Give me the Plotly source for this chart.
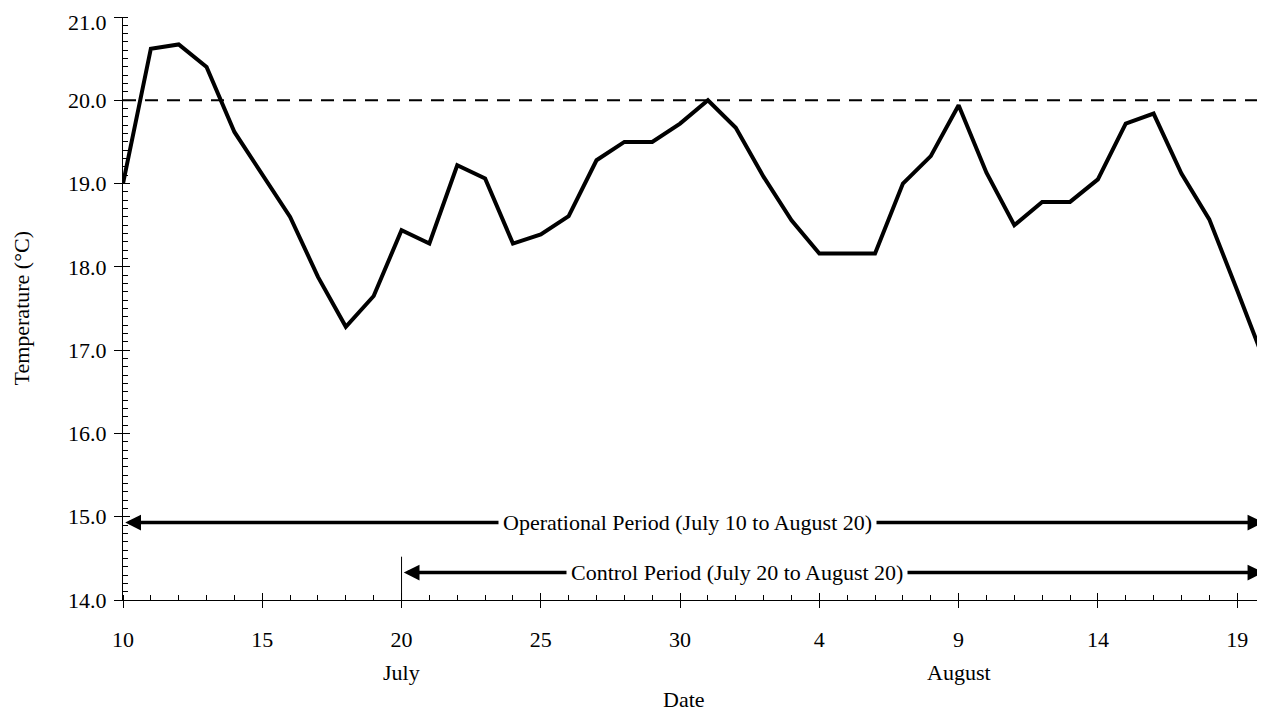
import plotly.graph_objects as go

# ---- data ----
temps = [19.00, 20.62, 20.67, 20.40, 19.62, 19.11, 18.60, 17.88, 17.28, 17.65,
         18.44, 18.28, 19.22, 19.06, 18.28, 18.39, 18.61, 19.28, 19.50, 19.50,
         19.72, 20.00, 19.67, 19.08, 18.56, 18.16, 18.16, 18.16, 19.00, 19.33,
         19.94, 19.13, 18.50, 18.78, 18.78, 19.05, 19.72, 19.84, 19.12, 18.57,
         17.72, 16.85]
day_index = list(range(len(temps)))          # 0 = July 10 ... 41 = August 20
tick_pos = [0, 5, 10, 15, 20, 25, 30, 35, 40]
tick_labels = ["10", "15", "20", "25", "30", "4", "9", "14", "19"]
month_labels = ["July", "August"]
month_pos = [10, 30]
y_min, y_max = 14.0, 21.0
threshold = 20.0
op_period = [0, 41]      # July 10 to August 20
ctl_period = [10, 41]    # July 20 to August 20
op_level = 14.93
ctl_level = 14.33

FONT = "Liberation Serif"
PLOT_W = 1142
fig = go.Figure()

fig.add_trace(go.Scatter(x=[op_period[0], op_period[1]], y=[threshold, threshold],
                         mode="lines", line=dict(color="black", width=2, dash="13px,9px"),
                         hoverinfo="skip", showlegend=False))
fig.add_trace(go.Scatter(x=day_index, y=temps, mode="lines",
                         line=dict(color="black", width=4), cliponaxis=False,
                         showlegend=False))
# invisible trace to keep the overlay axes (inner halves of major ticks)
fig.add_trace(go.Scatter(x=[0], y=[y_min], xaxis="x2", yaxis="y2", mode="markers",
                         marker=dict(opacity=0), hoverinfo="skip", showlegend=False))

ax_common = dict(showgrid=False, zeroline=False, color="black",
                 tickfont=dict(family=FONT, size=22, color="black"))

fig.update_layout(
    width=1257, height=704,
    margin=dict(l=115, r=0, t=9, b=112, pad=0),
    paper_bgcolor="white", plot_bgcolor="white",
    showlegend=False,
    font=dict(family=FONT, size=22, color="black"),
    xaxis=dict(range=[0, 41], tickmode="array", tickvals=tick_pos, ticktext=tick_labels,
               ticks="outside", ticklen=7, tickwidth=1, tickcolor="black",
               showline=True, linecolor="black", linewidth=1,
               minor=dict(dtick=1, tick0=0, ticks="inside", ticklen=5, tickcolor="black", tickwidth=1),
               ticklabelstandoff=13, **ax_common),
    yaxis=dict(range=[y_min, y_max], dtick=1, tick0=14, tickformat=".1f",
               ticks="outside", ticklen=8, tickwidth=1, tickcolor="black",
               showline=True, linecolor="black", linewidth=1,
               minor=dict(dtick=0.1, tick0=14, ticks="inside", ticklen=5, tickcolor="black", tickwidth=1),
               ticklabelstandoff=3, **ax_common),
    xaxis2=dict(range=[0, 41], overlaying="x", anchor="y2", side="bottom",
                tickmode="array", tickvals=tick_pos, ticks="inside", ticklen=7,
                tickcolor="black", tickwidth=1, showticklabels=False, showline=False,
                showgrid=False, zeroline=False),
    yaxis2=dict(range=[y_min, y_max], overlaying="y", anchor="x2", side="left",
                dtick=1, tick0=14, ticks="inside", ticklen=7, tickcolor="black",
                tickwidth=1, showticklabels=False, showline=False,
                showgrid=False, zeroline=False),
)

# top tick label (plotly hides it because it touches the figure edge)
fig.add_annotation(x=0, y=y_max, xref="paper", yref="y", text=f"{y_max:.1f}",
                   showarrow=False, xanchor="right", yanchor="top", yshift=8, xshift=-15,
                   borderpad=0,
                   font=dict(family=FONT, size=22, color="black"))

# control period start marker
fig.add_shape(type="line", x0=ctl_period[0], x1=ctl_period[0], y0=14.0, y1=14.52,
              xref="x", yref="y", line=dict(color="black", width=1))

def period(start, end, level, label_x, text):
    for tip in (start + 0.08, end - 0.06):
        fig.add_annotation(x=tip, y=level, ax=label_x, ay=level, xref="x", yref="y",
                           axref="x", ayref="y", text="", showarrow=True,
                           arrowhead=2, arrowsize=0.9, arrowwidth=3.5, arrowcolor="black",
                           standoff=0, startstandoff=0)
    fig.add_annotation(x=label_x, y=level, xref="x", yref="y", text=text, showarrow=False,
                       bgcolor="white", borderpad=4,
                       font=dict(family=FONT, size=22, color="black"))

period(op_period[0], op_period[1], op_level, 20.26, "Operational Period (July 10 to August 20)")
period(ctl_period[0], ctl_period[1], ctl_level, 22.04, "Control Period (July 20 to August 20)")

for m, p in zip(month_labels, month_pos):
    fig.add_annotation(x=p, y=0, xref="x", yref="paper", text=m, showarrow=False,
                       yanchor="middle", yshift=-72,
                       font=dict(family=FONT, size=22, color="black"))

fig.add_annotation(x=(684 - 123) / PLOT_W, y=0, xref="paper", yref="paper", text="Date",
                   showarrow=False, yanchor="middle", yshift=-99,
                   font=dict(family=FONT, size=22, color="black"))
fig.add_annotation(x=-(123 - 21) / PLOT_W, y=0.5, xref="paper", yref="paper",
                   text="Temperature (°C)", textangle=-90, showarrow=False,
                   xanchor="center", yanchor="middle",
                   font=dict(family=FONT, size=22, color="black"))

fig.write_html("out.html")
